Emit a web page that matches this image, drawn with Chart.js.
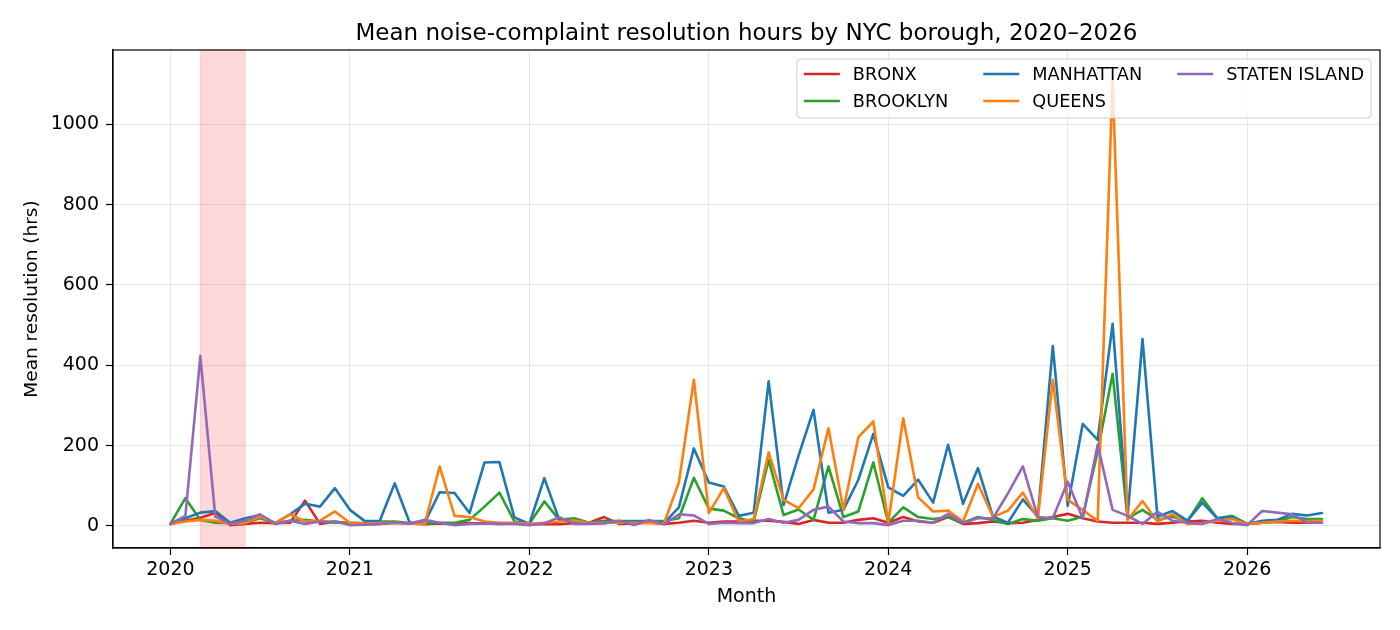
<!DOCTYPE html>
<html>
<head>
<meta charset="utf-8">
<script src="https://cdn.jsdelivr.net/npm/chart.js@4.4.1/dist/chart.umd.min.js"></script>
<style>
  html, body { margin: 0; padding: 0; background: #fff; }
</style>
</head>
<body>
<canvas id="myChart" width="1400" height="630"></canvas>
<script>
// Month labels, 2020-01 .. 2026-06
const months = [];
for (let y = 2020; y <= 2026; y++) {
    for (let m = 1; m <= 12; m++) {
        if (y === 2026 && m > 6) break;
        months.push(y + '-' + String(m).padStart(2, '0'));
    }
}

const boroughs = ['BRONX', 'BROOKLYN', 'MANHATTAN', 'QUEENS', 'STATEN ISLAND'];
const boroughColors = ['#d62728', '#2ca02c', '#1f77b4', '#ff7f0e', '#9467bd'];

// Mean resolution hours per month
const bronx = [5, 13, 20, 33, 2, 5, 8, 7, 8, 63, 5, 11, 6, 4, 5, 8, 6, 4, 6, 5, 7, 6, 5, 6,
    4, 5, 4, 7, 8, 22, 5, 6, 8, 5, 8, 13, 8, 11, 11, 13, 13, 10, 5, 15, 8, 8, 15, 19,
    8, 22, 11, 8, 22, 5, 7, 11, 7, 8, 15, 22, 30, 19, 11, 8, 8, 8, 5, 8, 11, 13, 8, 5,
    5, 8, 10, 8, 8, 8];
const brooklyn = [5, 69, 15, 8, 7, 8, 19, 7, 13, 15, 11, 8, 8, 7, 11, 11, 7, 6, 8, 8, 15, 48, 83, 11,
    5, 61, 15, 19, 8, 13, 12, 12, 12, 12, 19, 120, 43, 38, 19, 11, 164, 27, 41, 15, 148, 22, 36, 158,
    8, 46, 22, 17, 22, 8, 22, 15, 5, 17, 13, 19, 13, 23, 185, 379, 19, 40, 15, 23, 11, 69, 19, 25,
    5, 8, 11, 22, 17, 17];
const manhattan = [5, 19, 33, 37, 8, 19, 27, 7, 29, 55, 48, 94, 40, 12, 13, 106, 8, 8, 84, 82, 32, 158, 159, 21,
    5, 119, 15, 11, 8, 10, 10, 11, 12, 7, 46, 193, 108, 98, 25, 33, 360, 52, 175, 289, 33, 40, 115, 229,
    96, 75, 115, 58, 202, 55, 144, 23, 8, 66, 23, 448, 50, 254, 214, 503, 23, 465, 23, 37, 13, 58, 19, 22,
    5, 13, 15, 30, 26, 32];
const queens = [5, 11, 15, 13, 5, 7, 23, 7, 29, 11, 13, 36, 8, 6, 7, 8, 6, 5, 148, 25, 22, 11, 8, 8,
    5, 8, 11, 13, 8, 8, 8, 8, 8, 6, 108, 364, 32, 94, 11, 17, 183, 65, 44, 91, 243, 40, 221, 260,
    8, 268, 71, 36, 38, 11, 105, 22, 38, 83, 19, 364, 65, 40, 13, 1110, 15, 62, 11, 29, 5, 7, 13, 17,
    5, 8, 11, 13, 12, 13];
const statenIsland = [5, 25, 423, 23, 5, 13, 29, 5, 13, 5, 11, 11, 2, 3, 5, 8, 6, 15, 8, 2, 5, 6, 5, 5,
    2, 6, 22, 5, 5, 6, 13, 2, 15, 4, 29, 26, 5, 8, 7, 7, 17, 8, 15, 40, 48, 11, 7, 7,
    2, 13, 13, 8, 30, 8, 19, 19, 81, 148, 22, 19, 110, 19, 202, 40, 25, 5, 35, 13, 8, 5, 17, 7,
    2, 37, 33, 29, 8, 8];

const seriesValues = [bronx, brooklyn, manhattan, queens, statenIsland];

const xTicks = [2020, 2021, 2022, 2023, 2024, 2025, 2026];
const yTicks = [0, 200, 400, 600, 800, 1000];
const shadeSpan = ['2020-03', '2020-06'];

const chartTitle = 'Mean noise-complaint resolution hours by NYC borough, 2020\u20132026';

// 'YYYY-MM' -> decimal year, so the linear x axis can carry year ticks
function monthToX(label) {
    const parts = label.split('-');
    return parseInt(parts[0]) + (parseInt(parts[1]) - 1) / 12;
}

const FONT = '"DejaVu Sans", sans-serif';
Chart.defaults.font.family = FONT;
Chart.defaults.color = '#000';

// Shaded band behind the lines
const shadePlugin = {
    id: 'shade',
    beforeDatasetsDraw(chart) {
        const { ctx, chartArea, scales } = chart;
        const x0 = scales.x.getPixelForValue(monthToX(shadeSpan[0]));
        const x1 = scales.x.getPixelForValue(monthToX(shadeSpan[1]));
        ctx.save();
        ctx.fillStyle = 'rgba(255, 0, 0, 0.15)';
        ctx.fillRect(x0, chartArea.top, x1 - x0, chartArea.bottom - chartArea.top);
        ctx.strokeStyle = 'rgba(255, 0, 0, 0.15)';
        ctx.lineWidth = 1;
        ctx.strokeRect(x0, chartArea.top, x1 - x0, chartArea.bottom - chartArea.top);
        ctx.restore();
    }
};

// Frame, title and legend in matplotlib style
const decorPlugin = {
    id: 'decor',
    afterDraw(chart) {
        const { ctx, chartArea } = chart;
        ctx.save();
        // full frame
        ctx.strokeStyle = '#000';
        ctx.lineWidth = 1.2;
        ctx.strokeRect(chartArea.left, chartArea.top, chartArea.right - chartArea.left, chartArea.bottom - chartArea.top);

        // title over the plot area
        ctx.fillStyle = '#000';
        ctx.font = '23px ' + FONT;
        ctx.textAlign = 'center';
        ctx.textBaseline = 'alphabetic';
        ctx.fillText(chartTitle, (chartArea.left + chartArea.right) / 2, 39.5);

        // legend, column-major like matplotlib ncol=3
        ctx.font = '17.7px ' + FONT;
        const columns = [[0, 1], [2, 3], [4]];
        const handle = 36, textPad = 13, colGap = 35, sidePad = 7;
        const colW = columns.map(col => handle + textPad + Math.max(...col.map(i => ctx.measureText(boroughs[i]).width)));
        const boxW = sidePad * 2 + colW.reduce((a, b) => a + b, 0) + colGap * (columns.length - 1);
        const boxH = 59;
        const right = chartArea.right - 9;
        const top = chartArea.top + 9;
        const left = right - boxW;

        ctx.fillStyle = 'rgba(255,255,255,0.8)';
        ctx.strokeStyle = '#cccccc';
        ctx.lineWidth = 1;
        ctx.beginPath();
        ctx.roundRect(left, top, boxW, boxH, 4);
        ctx.fill();
        ctx.stroke();

        ctx.textAlign = 'left';
        ctx.textBaseline = 'middle';
        let cx = left + sidePad;
        columns.forEach((col, c) => {
            col.forEach((i, r) => {
                const cy = top + 15 + r * 27;
                ctx.strokeStyle = boroughColors[i];
                ctx.lineWidth = 2.5;
                ctx.beginPath();
                ctx.moveTo(cx, cy);
                ctx.lineTo(cx + handle, cy);
                ctx.stroke();
                ctx.fillStyle = '#000';
                ctx.fillText(boroughs[i], cx + handle + textPad, cy + 1);
            });
            cx += colW[c] + colGap;
        });
        ctx.restore();
    }
};

const datasets = boroughs.map((name, i) => ({
    label: name,
    data: months.map((mo, k) => ({ x: monthToX(mo), y: seriesValues[i][k] })),
    borderColor: boroughColors[i],
    backgroundColor: boroughColors[i],
    borderWidth: 2.6,
    borderJoinStyle: 'round',
    borderCapStyle: 'round',
    pointRadius: 0,
    tension: 0,
    // later boroughs drawn on top
    order: boroughs.length - i
}));

const ctx = document.getElementById('myChart').getContext('2d');

new Chart(ctx, {
    type: 'line',
    data: { datasets: datasets },
    plugins: [shadePlugin, decorPlugin],
    options: {
        responsive: false,
        devicePixelRatio: 1,
        animation: false,
        layout: { padding: { top: 50, right: 20, left: 0, bottom: 0 } },
        plugins: {
            legend: { display: false },
            tooltip: { enabled: false },
            title: { display: false }
        },
        scales: {
            x: {
                type: 'linear',
                min: 2019.68,
                max: 2026.74,
                afterBuildTicks: scale => { scale.ticks = xTicks.map(v => ({ value: v })); },
                afterFit: scale => { scale.height = 82; },
                ticks: {
                    font: { size: 19 },
                    color: '#000',
                    padding: 4,
                    autoSkip: false,
                    maxRotation: 0,
                    callback: v => String(v)
                },
                grid: {
                    color: 'rgba(176,176,176,0.3)',
                    lineWidth: 1,
                    tickColor: '#000',
                    tickLength: 7,
                    tickWidth: 1.2
                },
                border: { color: '#000', width: 1.2 },
                title: {
                    display: true,
                    text: 'Month',
                    font: { size: 19 },
                    color: '#000',
                    padding: { top: 0, bottom: 22 }
                }
            },
            y: {
                type: 'linear',
                min: -55,
                max: 1185,
                afterBuildTicks: scale => { scale.ticks = yTicks.map(v => ({ value: v })); },
                afterFit: scale => { scale.width = 113; },
                ticks: {
                    font: { size: 19 },
                    color: '#000',
                    padding: 7,
                    callback: v => String(v)
                },
                grid: {
                    color: 'rgba(176,176,176,0.3)',
                    lineWidth: 1,
                    tickColor: '#000',
                    tickLength: 7,
                    tickWidth: 1.2
                },
                border: { color: '#000', width: 1.2 },
                title: {
                    display: true,
                    text: 'Mean resolution (hrs)',
                    font: { size: 18.5 },
                    color: '#000',
                    padding: { top: 21, bottom: 0 }
                }
            }
        }
    }
});
</script>
</body>
</html>
